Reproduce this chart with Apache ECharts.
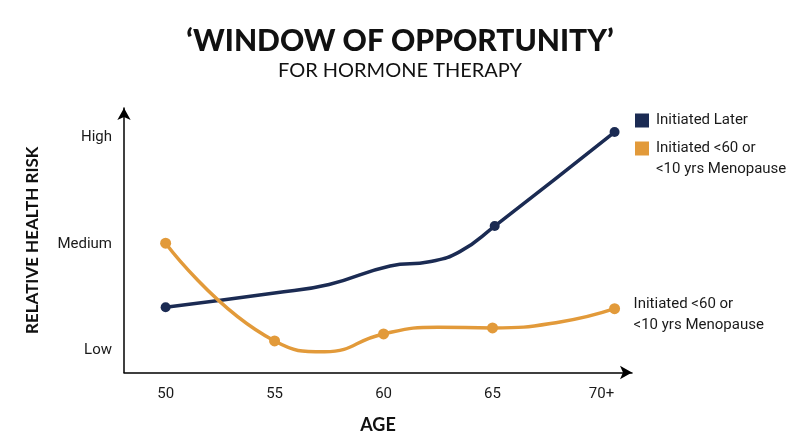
<!DOCTYPE html>
<html>
<head>
<meta charset="utf-8">
<script src="https://cdn.jsdelivr.net/npm/echarts@6/dist/echarts.min.js"></script>
<style>
html,body{margin:0;padding:0;background:#fff;}
#chart{width:800px;height:447px;}
</style>
</head>
<body>
<div id="chart"></div>
<script>
// ---- data ----
var xTickValues = [50, 55, 60, 65, 70];
var xTickLabels = ['50', '55', '60', '65', '70+'];
var yTickValues = [1, 2, 3];
var yTickLabels = ['Low', 'Medium', 'High'];

var laterName = 'Initiated Later';
var earlyName = 'Initiated <60 or\n<10 yrs Menopause';

var laterAge    = [50, 55, 57.5, 60.3, 62.1, 63.5, 65.1, 70.6];
var laterRisk   = [1.405, 1.538, 1.619, 1.793, 1.833, 1.928, 2.169, 3.054];
var laterMarked = [1, 0, 0, 0, 0, 0, 1, 1];

var earlyAge    = [50, 55, 57.3, 60, 62.5, 65, 68.1, 70.6];
var earlyRisk   = [2.007, 1.087, 0.985, 1.153, 1.216, 1.21, 1.266, 1.391];
var earlyMarked = [1, 1, 0, 1, 0, 1, 0, 1];

var NAVY = '#1b2b53';
var ORANGE = '#e29a3a';
var TEXT = '#1a1a1a';

function pairs(xs, ys) { return xs.map(function (x, i) { return [x, ys[i]]; }); }
function labelFor(values, labels) {
  return function (v) { var i = values.indexOf(Math.round(v * 1000) / 1000); return i >= 0 ? labels[i] : ''; };
}
function richLines(name) {
  return name.split('\n').map(function (s) { return '{t|' + s + '}'; }).join('\n');
}
var legendRich = {t: {fontFamily: 'Roboto', fontSize: 15, color: TEXT, lineHeight: 21, padding: [0, 0, 0, 2]}};

var chart = echarts.init(document.getElementById('chart'), null, {renderer: 'canvas'});
chart.setOption({
  backgroundColor: '#ffffff',
  animation: false,
  title: [{
    text: '\u2018WINDOW OF OPPORTUNITY\u2019',
    left: 'center',
    top: 21,
    textStyle: {fontFamily: 'Lato', fontWeight: 900, fontSize: 30, color: '#111'},
    subtext: 'FOR HORMONE THERAPY',
    subtextStyle: {fontFamily: 'Lato', fontWeight: 'normal', fontSize: 20, color: '#111'},
    itemGap: 5
  }],
  legend: [{
    data: [laterName],
    orient: 'vertical',
    left: 635, top: 113, padding: 0,
    itemWidth: 14, itemHeight: 14, icon: 'rect',
    formatter: function (name) { return richLines(name); },
    textStyle: {fontFamily: 'Roboto', fontSize: 15, color: TEXT, rich: legendRich}
  }, {
    data: [earlyName],
    orient: 'vertical',
    left: 635, top: 117, padding: 0,
    itemWidth: 14, itemHeight: 14, icon: 'rect',
    formatter: function (name) { return '{t| }\n' + richLines(name); },
    textStyle: {fontFamily: 'Roboto', fontSize: 15, color: TEXT, lineHeight: 21, rich: legendRich}
  }],
  grid: {left: 124, right: 168, top: 108, bottom: 74.5, containLabel: false},
  xAxis: {
    type: 'value', min: 48.09, max: 71.4,
    name: 'AGE', nameLocation: 'middle', nameGap: 44,
    nameTextStyle: {fontFamily: 'Lato', fontWeight: 'bold', fontSize: 18, color: '#111'},
    axisLine: {show: true, symbol: ['none', 'arrow'], symbolSize: [10, 12], lineStyle: {color: '#000', width: 1.5}},
    axisTick: {show: false},
    splitLine: {show: false},
    axisLabel: {customValues: xTickValues, formatter: labelFor(xTickValues, xTickLabels),
      margin: 14, fontFamily: 'Roboto', fontSize: 15, color: TEXT}
  },
  yAxis: {
    type: 'value', min: 0.79, max: 3.28,
    name: 'RELATIVE HEALTH RISK', nameLocation: 'middle', nameGap: 83, nameRotate: 90,
    nameTextStyle: {fontFamily: 'Lato', fontWeight: 'bold', fontSize: 17, color: '#111'},
    axisLine: {show: true, symbol: ['none', 'arrow'], symbolSize: [10, 12], lineStyle: {color: '#000', width: 1.5}},
    axisTick: {show: false},
    splitLine: {show: false},
    axisLabel: {customValues: yTickValues, formatter: labelFor(yTickValues, yTickLabels),
      margin: 12, fontFamily: 'Roboto', fontSize: 15, color: TEXT}
  },
  series: [{
    name: laterName, type: 'line', smooth: 0.5,
    data: pairs(laterAge, laterRisk),
    symbol: 'circle',
    symbolSize: function (v, p) { return laterMarked[p.dataIndex] ? 10 : 0; },
    showAllSymbol: true,
    lineStyle: {color: NAVY, width: 3.5},
    itemStyle: {color: NAVY},
    z: 2
  }, {
    name: earlyName, type: 'line', smooth: 0.5,
    data: pairs(earlyAge, earlyRisk),
    symbol: 'circle',
    symbolSize: function (v, p) { return earlyMarked[p.dataIndex] ? 11 : 0; },
    showAllSymbol: true,
    lineStyle: {color: ORANGE, width: 3.5},
    itemStyle: {color: ORANGE},
    endLabel: {show: true, formatter: earlyName, distance: 18, offset: [1, 6],
      fontFamily: 'Roboto', fontSize: 15, lineHeight: 21, color: TEXT},
    z: 3
  }]
});
</script>
</body>
</html>
